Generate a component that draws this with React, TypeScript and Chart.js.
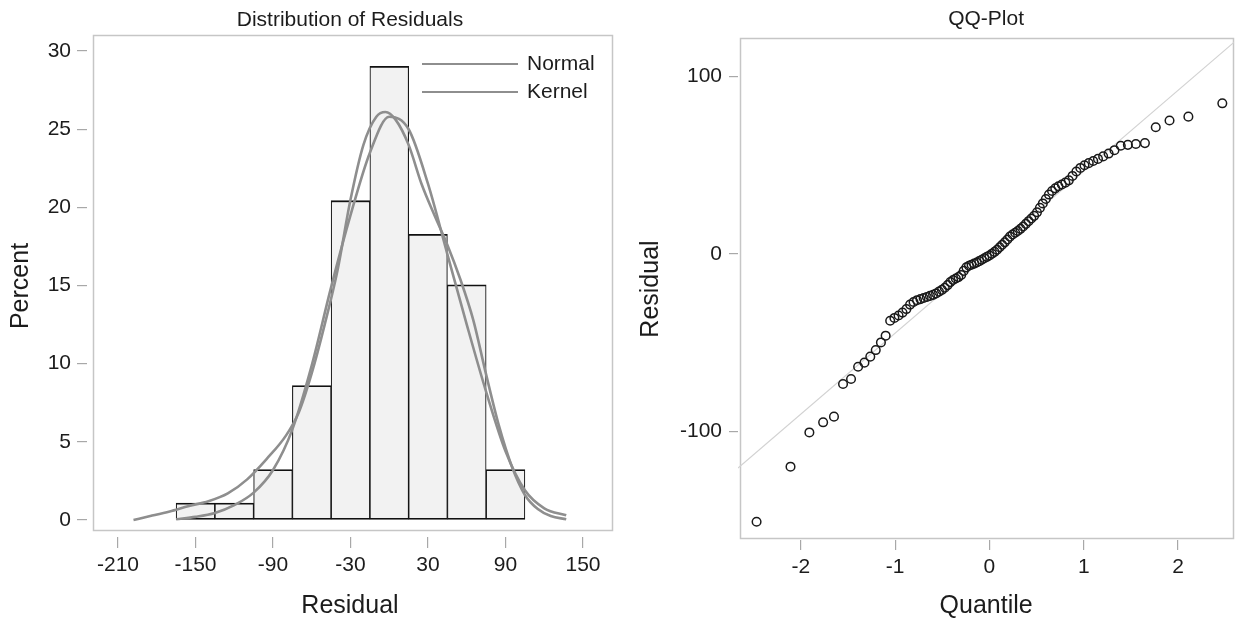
import React, { useEffect, useRef } from "react";
import { Chart, registerables } from "chart.js";
Chart.register(...registerables);

// ---------- Histogram data ----------
const binCenters = [-150, -120, -90, -60, -30, 0, 30, 60, 90];
const binPercents = [1.08, 1.08, 3.23, 8.6, 20.43, 29.03, 18.28, 15.05, 3.23];

const normalX = [-165, -150, -135, -120, -105, -90, -75, -60, -45, -30, -15, 0, 15, 30, 45, 60, 75, 90, 105, 120, 137];
const normalY = [0.05, 0.2, 0.45, 0.95, 1.75, 3.2, 5.8, 9.9, 14.9, 19.5, 23.5, 25.8, 25.0, 21.5, 17.0, 12.5, 8.2, 4.4, 1.9, 0.75, 0.3];

const kernelX = [-198, -185, -170, -155, -140, -125, -110, -95, -80, -70, -60, -50, -40, -30, -20, -10, -3, 5, 15, 25, 35, 45, 55, 65, 75, 85, 95, 105, 115, 125, 137];
const kernelY = [0.0, 0.25, 0.55, 0.9, 1.2, 1.7, 2.6, 3.9, 5.4, 6.9, 9.4, 12.5, 16.0, 20.5, 24.0, 25.8, 26.1, 25.6, 24.0, 21.5, 19.5, 17.6, 15.4, 12.8, 9.3, 6.0, 3.4, 1.6, 0.7, 0.25, 0.05];

const histXTicks = [-210, -150, -90, -30, 30, 90, 150];
const histYTicks = [0, 5, 10, 15, 20, 25, 30];

// ---------- QQ data ----------
const qqQuantiles = [
  -2.47, -2.11, -1.91, -1.764, -1.649, -1.553, -1.468, -1.393, -1.326, -1.264,
  -1.206, -1.151, -1.101, -1.053, -1.008, -0.964, -0.922, -0.881, -0.842, -0.805,
  -0.768, -0.732, -0.698, -0.664, -0.631, -0.598, -0.566, -0.535, -0.504, -0.474,
  -0.444, -0.415, -0.386, -0.357, -0.329, -0.3, -0.273, -0.245, -0.217, -0.19,
  -0.162, -0.135, -0.108, -0.081, -0.054, -0.027, 0, 0.027, 0.054, 0.081,
  0.108, 0.135, 0.162, 0.19, 0.217, 0.245, 0.273, 0.3, 0.329, 0.357,
  0.386, 0.415, 0.444, 0.474, 0.504, 0.535, 0.566, 0.598, 0.631, 0.664,
  0.698, 0.732, 0.768, 0.805, 0.842, 0.881, 0.922, 0.964, 1.008, 1.053,
  1.101, 1.151, 1.206, 1.264, 1.326, 1.393, 1.468, 1.553, 1.649, 1.764,
  1.91, 2.11, 2.47,
];
const qqResiduals = [
  -150.8, -119.8, -100.5, -94.8, -91.6, -73.2, -70.4, -63.5, -61.2, -57.8,
  -54.1, -49.8, -46.0, -37.6, -36.0, -34.6, -33.0, -31.0, -28.5, -27.0,
  -26.0, -25.4, -24.8, -24.2, -23.6, -23.0, -22.2, -21.2, -20.2, -19.0,
  -17.5, -15.8, -14.6, -13.8, -13.0, -11.8, -9.5, -7.5, -6.6, -6.0,
  -5.4, -4.8, -4.0, -3.2, -2.4, -1.6, -0.8, 0.2, 1.2, 2.4,
  3.8, 5.2, 6.6, 8.2, 9.8, 11.0, 12.0, 13.0, 14.2, 15.5,
  17.0, 18.5, 20.0, 21.5, 23.5, 26.0, 28.5, 31.0, 33.5, 35.5,
  37.0, 38.2, 39.2, 40.2, 41.5, 44.0, 46.5, 48.5, 50.0, 51.2,
  52.4, 53.6, 55.0, 56.6, 58.5, 61.0, 61.5, 62.0, 62.5, 71.4,
  75.2, 77.4, 84.9,
];
const refLineX = [-2.667, 2.596];
const refLineY = [-120.6, 119.4];
const qqXTicks = [-2, -1, 0, 1, 2];
const qqYTicks = [-100, 0, 100];

const FONT = "'Liberation Sans', Arial, Helvetica, sans-serif";
const TEXT = "#1c1c1c";
const TICK_COLOR = "#a8a8a8";
const FRAME_COLOR = "#c6c6c6";
const CURVE_COLOR = "#8e8e8e";

function framePlugin(insetLeft: number, insetBottom: number) {
  return {
    id: "frame",
    beforeDatasetsDraw(chart: any) {
      const { ctx, chartArea: a } = chart;
      ctx.save();
      ctx.strokeStyle = FRAME_COLOR;
      ctx.lineWidth = 1.5;
      const l = Math.round(a.left + insetLeft) + 0.5;
      const t = Math.round(a.top) + 0.5;
      const r = Math.round(a.right) - 0.5;
      const b = Math.round(a.bottom - insetBottom) + 0.5;
      ctx.strokeRect(l, t, r - l, b - t);
      ctx.restore();
    },
  };
}

const legendPlugin = {
  id: "innerLegend",
  afterDatasetsDraw(chart: any) {
    const { ctx, chartArea: a } = chart;
    const items = chart.data.datasets.filter((d: any) => d.type === "line");
    ctx.save();
    items.forEach((d: any, k: number) => {
      const y = a.top + 29 + k * 28;
      ctx.strokeStyle = d.borderColor;
      ctx.lineWidth = 2.2;
      ctx.beginPath();
      ctx.moveTo(a.right - 191, y);
      ctx.lineTo(a.right - 95, y);
      ctx.stroke();
      ctx.fillStyle = TEXT;
      ctx.font = `21px ${FONT}`;
      ctx.textBaseline = "middle";
      ctx.textAlign = "left";
      ctx.fillText(d.label, a.right - 86, y);
    });
    ctx.restore();
  },
};

function tickFont() {
  return { family: FONT, size: 21 };
}

export default function App() {
  const histRef = useRef<HTMLCanvasElement>(null);
  const qqRef = useRef<HTMLCanvasElement>(null);

  useEffect(() => {
    const histChart = new Chart(histRef.current as HTMLCanvasElement, {
      type: "bar",
      data: {
        datasets: [
          {
            type: "line",
            label: "Normal",
            data: normalX.map((x, i) => ({ x, y: normalY[i] })),
            borderColor: CURVE_COLOR,
            borderWidth: 2.6,
            pointRadius: 0,
            cubicInterpolationMode: "monotone",
            fill: false,
            order: 1,
          } as any,
          {
            type: "line",
            label: "Kernel",
            data: kernelX.map((x, i) => ({ x, y: kernelY[i] })),
            borderColor: CURVE_COLOR,
            borderWidth: 2.6,
            pointRadius: 0,
            cubicInterpolationMode: "monotone",
            fill: false,
            order: 2,
          } as any,
          {
            type: "bar",
            label: "Percent",
            data: binCenters.map((x, i) => ({ x, y: binPercents[i] })),
            backgroundColor: "#f2f2f2",
            borderColor: "#111111",
            borderWidth: { top: 1.8, bottom: 1.8, left: 1.1, right: 1.1 },
            borderSkipped: false,
            barPercentage: 1,
            categoryPercentage: 1,
            order: 3,
          } as any,
        ],
      },
      options: {
        animation: false,
        responsive: false,
        devicePixelRatio: 1,
        layout: { padding: { left: 0, right: 7, top: 0, bottom: 0 } },
        plugins: {
          legend: { display: false },
          tooltip: { enabled: false },
          title: {
            display: true,
            text: "Distribution of Residuals",
            fullSize: false,
            color: TEXT,
            font: { family: FONT, size: 21, weight: "normal", lineHeight: 24 / 21 },
            padding: { top: 8, bottom: 3 },
          },
        },
        scales: {
          x: {
            type: "linear",
            min: -234.0,
            max: 173.2,
            offset: false,
            afterBuildTicks: (s: any) => {
              s.ticks = histXTicks.map((v) => ({ value: v }));
            },
            afterFit: (s: any) => {
              s.height = 82;
            },
            grid: { display: true, offset: false, drawOnChartArea: false, drawTicks: true, tickLength: 11, color: TICK_COLOR, lineWidth: 1.2 },
            border: { display: false },
            ticks: { font: tickFont(), color: TEXT, padding: 5, maxRotation: 0, autoSkip: false, callback: (v: any) => String(v) },
            title: { display: true, text: "Residual", color: TEXT, font: { family: FONT, size: 25, lineHeight: 1 }, padding: { top: 0, bottom: 0 } },
          },
          y: {
            type: "linear",
            min: -1.088,
            max: 31.03,
            afterBuildTicks: (s: any) => {
              s.ticks = histYTicks.map((v) => ({ value: v }));
            },
            afterFit: (s: any) => {
              s.width = 87;
            },
            grid: { display: true, offset: false, drawOnChartArea: false, drawTicks: true, tickLength: 10, color: TICK_COLOR, lineWidth: 1.2 },
            border: { display: false },
            ticks: { font: tickFont(), color: TEXT, padding: 6, autoSkip: false, callback: (v: any) => String(v) },
            title: { display: true, text: "Percent", color: TEXT, font: { family: FONT, size: 25, lineHeight: 1 }, padding: { top: 9, bottom: 0 } },
          },
        },
      },
      plugins: [framePlugin(6, 7), legendPlugin],
    } as any);

    const qqChart = new Chart(qqRef.current as HTMLCanvasElement, {
      type: "scatter",
      data: {
        datasets: [
          {
            type: "scatter",
            label: "Residual",
            data: qqQuantiles.map((x, i) => ({ x, y: qqResiduals[i] })),
            pointStyle: "circle",
            pointRadius: 4.3,
            borderColor: "#1a1a1a",
            borderWidth: 1.5,
            backgroundColor: "rgba(255,255,255,0)",
            order: 1,
          } as any,
          {
            type: "line",
            label: "Reference",
            data: refLineX.map((x, i) => ({ x, y: refLineY[i] })),
            borderColor: "#d2d2d2",
            borderWidth: 1.2,
            pointRadius: 0,
            fill: false,
            order: 2,
          } as any,
        ],
      },
      options: {
        animation: false,
        responsive: false,
        devicePixelRatio: 1,
        layout: { padding: { left: 0, right: 2, top: 0, bottom: 0 } },
        plugins: {
          legend: { display: false },
          tooltip: { enabled: false },
          title: {
            display: true,
            text: "QQ-Plot",
            fullSize: false,
            color: TEXT,
            font: { family: FONT, size: 21, weight: "normal", lineHeight: 24 / 21 },
            padding: { top: 7, bottom: 7 },
          },
        },
        scales: {
          x: {
            type: "linear",
            min: -2.667,
            max: 2.596,
            afterBuildTicks: (s: any) => {
              s.ticks = qqXTicks.map((v) => ({ value: v }));
            },
            afterFit: (s: any) => {
              s.height = 79;
            },
            grid: { display: true, offset: false, drawOnChartArea: false, drawTicks: true, tickLength: 10, color: TICK_COLOR, lineWidth: 1.2 },
            border: { display: false },
            ticks: { font: tickFont(), color: TEXT, padding: 5, maxRotation: 0, autoSkip: false, callback: (v: any) => String(v) },
            title: { display: true, text: "Quantile", color: TEXT, font: { family: FONT, size: 25, lineHeight: 1 }, padding: { top: 0, bottom: 0 } },
          },
          y: {
            type: "linear",
            min: -161.1,
            max: 121.7,
            afterBuildTicks: (s: any) => {
              s.ticks = qqYTicks.map((v) => ({ value: v }));
            },
            afterFit: (s: any) => {
              s.width = 118;
            },
            grid: { display: true, offset: false, drawOnChartArea: false, drawTicks: true, tickLength: 9, color: TICK_COLOR, lineWidth: 1.2 },
            border: { display: false },
            ticks: { font: tickFont(), color: TEXT, padding: 7, autoSkip: false, callback: (v: any) => String(v) },
            title: { display: true, text: "Residual", color: TEXT, font: { family: FONT, size: 25, lineHeight: 1 }, padding: { top: 19, bottom: 0 } },
          },
        },
      },
      plugins: [framePlugin(2, 2)],
    } as any);

    return () => {
      histChart.destroy();
      qqChart.destroy();
    };
  }, []);

  return (
    <div style={{ position: "fixed", left: 0, top: 0, width: 1240, height: 619, background: "#ffffff", overflow: "hidden" }}>
      <canvas ref={histRef} width={620} height={619} style={{ position: "absolute", left: 0, top: 0, width: 620, height: 619 }} />
      <canvas ref={qqRef} width={620} height={619} style={{ position: "absolute", left: 620, top: 0, width: 620, height: 619 }} />
    </div>
  );
}
